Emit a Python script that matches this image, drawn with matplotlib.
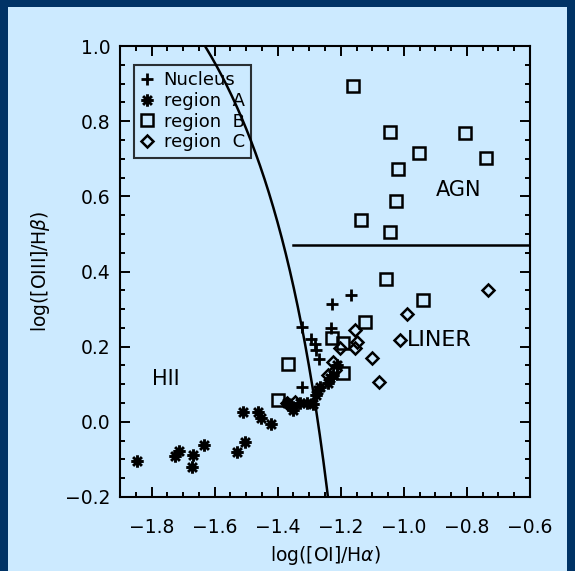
import matplotlib
matplotlib.use("Agg")
import matplotlib.pyplot as plt
import numpy as np
from matplotlib.patches import Rectangle
from matplotlib.path import Path

# ---------------- data ----------------
nucleus_x = [-1.166, -1.229, -1.324, -1.293, -1.283, -1.280, -1.270, -1.231, -1.324]
nucleus_y = [0.337, 0.313, 0.253, 0.220, 0.207, 0.190, 0.166, 0.249, 0.092]

regA_x = [-1.847, -1.726, -1.712, -1.668, -1.671, -1.633, -1.530, -1.504, -1.511, -1.462,
          -1.454, -1.421, -1.370, -1.351, -1.351, -1.329, -1.308, -1.287, -1.277, -1.271,
          -1.266, -1.240, -1.234, -1.224, -1.213]
regA_y = [-0.104, -0.091, -0.078, -0.088, -0.121, -0.062, -0.081, -0.053, 0.027, 0.025,
          0.009, -0.007, 0.049, 0.040, 0.031, 0.051, 0.049, 0.047, 0.071, 0.085,
          0.093, 0.102, 0.116, 0.125, 0.151]

regB_x = [-1.160, -1.044, -0.806, -0.951, -0.738, -1.019, -1.026, -1.137, -1.044,
          -1.055, -0.939, -1.123, -1.229, -1.192, -1.192, -1.366, -1.398]
regB_y = [0.894, 0.770, 0.768, 0.716, 0.701, 0.672, 0.587, 0.537, 0.504,
          0.379, 0.324, 0.266, 0.222, 0.209, 0.129, 0.154, 0.058]

regC_x = [-0.733, -0.989, -1.012, -1.102, -1.078, -1.155, -1.150, -1.155, -1.203,
          -1.224, -1.218, -1.240, -1.372, -1.345]
regC_y = [0.351, 0.286, 0.218, 0.169, 0.106, 0.244, 0.213, 0.196, 0.196,
          0.160, 0.138, 0.125, 0.050, 0.052]

# demarcation curve y = a/(x+b)+c
curve_a, curve_b, curve_c = 0.679, 0.927, 1.965
agn_line_y = 0.47
agn_line_x0 = -1.35

xlim = (-1.9, -0.6)
ylim = (-0.2, 1.0)
xticks = [-1.8, -1.6, -1.4, -1.2, -1.0, -0.8, -0.6]
yticks = [-0.2, 0.0, 0.2, 0.4, 0.6, 0.8, 1.0]

# ---------------- style ----------------
light = '#cceaff'
dark = '#003366'

W, H = 575, 571
fig = plt.figure(figsize=(W / 100, H / 100), dpi=100, facecolor=dark)
fig.patches.append(Rectangle((8 / W, 0), (W - 16) / W, (H - 7) / H,
                             transform=fig.transFigure, facecolor=light,
                             edgecolor='none', zorder=-10))

ax = fig.add_axes([120 / W, 1 - 497 / H, 410 / W, 451 / H])
ax.set_facecolor('none')
ax.set_xlim(*xlim)
ax.set_ylim(*ylim)

# curve
yy = np.linspace(-0.25, 1.05, 400)
xx = curve_a / (yy - curve_c) - curve_b
ax.plot(xx, yy, color='black', lw=1.8, zorder=2)
ax.plot([agn_line_x0, xlim[1]], [agn_line_y, agn_line_y], color='black', lw=1.8, zorder=2)

# IDL-like asterisk: plus + cross
verts, codes = [], []
for ang in np.deg2rad([0, 45, 90, 135]):
    c, s = np.cos(ang), np.sin(ang)
    verts += [(-c, -s), (c, s)]
    codes += [Path.MOVETO, Path.LINETO]
star = Path(verts, codes)

ms_kw = dict(linestyle='none', color='black')
ax.plot(nucleus_x, nucleus_y, marker='+', markersize=9, mew=2.0, label='Nucleus', **ms_kw)
ax.plot(regA_x, regA_y, marker=star, markersize=9, mew=2.1, label='region  A', **ms_kw)
ax.plot(regB_x, regB_y, marker='s', markersize=8, mew=1.8, mfc='none', label='region  B', **ms_kw)
ax.plot(regC_x, regC_y, marker='D', markersize=6.5, mew=1.8, mfc='none', label='region  C', **ms_kw)

# text labels
ax.text(-1.754, 0.114, 'HII', fontsize=15, ha='center', va='center')
ax.text(-0.826, 0.617, 'AGN', fontsize=15, ha='center', va='center')
ax.text(-0.887, 0.218, 'LINER', fontsize=16, ha='center', va='center')

# axes styling
for s in ax.spines.values():
    s.set_linewidth(1.5)
ax.set_xticks(xticks)
ax.set_yticks(yticks)
ax.set_xticks(np.arange(-1.9, -0.59, 0.05), minor=True)
ax.set_yticks(np.arange(-0.2, 1.01, 0.05), minor=True)
fmt = matplotlib.ticker.FuncFormatter(lambda v, p: f'{v:.1f}'.replace('-', '\u2212'))
ax.xaxis.set_major_formatter(fmt)
ax.yaxis.set_major_formatter(fmt)
ax.tick_params(which='both', direction='in', top=True, right=True, color='black')
ax.tick_params(which='major', length=7, width=1.4, labelsize=13.5)
ax.tick_params(axis='x', which='major', pad=15)
ax.tick_params(axis='y', which='major', pad=7)
ax.tick_params(which='minor', length=3.5, width=1.4)

ax.set_xlabel(r'log([OI]/H$\alpha$)', fontsize=13.5, labelpad=5)
ax.set_ylabel(r'log([OIII]/H$\beta$)', fontsize=13.5, labelpad=9)

leg = ax.legend(loc='upper left', bbox_to_anchor=(0.034, 0.958), borderaxespad=0,
                frameon=True, fancybox=False, edgecolor='black', facecolor='none',
                fontsize=13, handlelength=0.7, handletextpad=0.6, labelspacing=0.15,
                borderpad=0.35, numpoints=1)
leg.get_frame().set_linewidth(1.5)

fig.savefig('out.png', dpi=100, facecolor=dark)
